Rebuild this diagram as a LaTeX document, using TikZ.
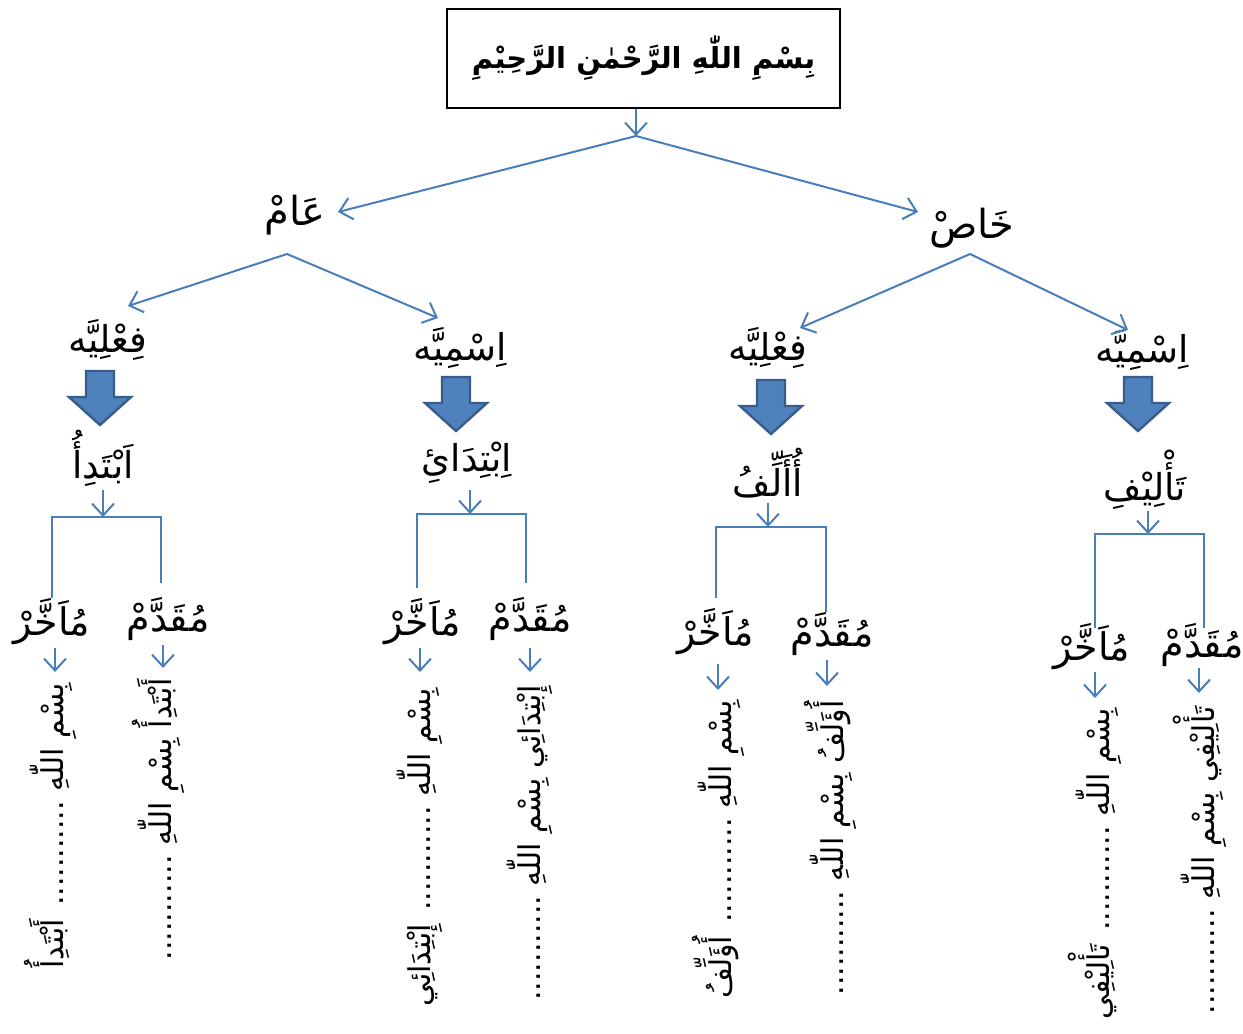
\documentclass[tikz,border=0pt]{standalone}
\usepackage{fontspec}
\usetikzlibrary{arrows.meta}
\TeXXeTstate=1
\newfontfamily\arabicfont[Script=Arabic]{DejaVu Sans}
\newcommand\artxt[1]{\beginR #1\endR}
\definecolor{lnblue}{HTML}{4A7EBB}
\definecolor{bafill}{HTML}{4F81BD}
\definecolor{baedge}{HTML}{385D8A}
\tikzset{
  conn/.style={draw=lnblue, line width=1pt, -{Straight Barb[length=6pt,width=11pt,line width=1pt]}},
  plain/.style={draw=lnblue, line width=0.8pt},
  toplbl/.style={font=\arabicfont\fontsize{20}{24}\selectfont, inner sep=0pt},
  lbl/.style={font=\arabicfont\fontsize{18.5}{22}\selectfont, inner sep=0pt},
  sublbl/.style={font=\arabicfont\fontsize{19}{22}\selectfont, inner sep=0pt},
  vtxt/.style={font=\arabicfont\fontsize{15}{18}\selectfont, inner sep=0pt, rotate=90, anchor=east},
  barrow/.pic={\draw[fill=bafill, draw=baedge, line width=1.2pt]
     (-14,0) -- (14,0) -- (14,26) -- (31,26) -- (0,54) -- (-31,26) -- (-14,26) -- cycle;}
}
\begin{document}
\begin{tikzpicture}[x=0.5pt,y=-0.5pt]
\useasboundingbox (0,0) rectangle (1243,1034);
\fill[white] (0,0) rectangle (1243,1034);
% top box
\node[draw=black, line width=1pt, minimum width=196.5pt, minimum height=49.5pt, inner sep=0pt,
      font=\arabicfont\bfseries\fontsize{14.5}{17}\selectfont] (bism) at (643.5,58.5)
      {\artxt{بِسْمِ اللّٰهِ الرَّحْمٰنِ الرَّحِيْمِ}};
\coordinate (top) at (636,136);
\draw[conn] (bism.south -| top) -- (top);
% level 2
\node[toplbl] (aam) at (295,215) {\artxt{عَامْ}};
\node[toplbl] (khas) at (972,228) {\artxt{خَاصْ}};
\coordinate (aamin) at (338,212);
\coordinate (khasin) at (918,212);
\draw[conn] (top) -- (aamin);
\draw[conn] (top) -- (khasin);
% level 3
\coordinate (aamb) at (287,254);
\coordinate (khasb) at (970,254);
\node[lbl] (f1) at (108,340) {\artxt{فِعْلِيَّه}};
\node[lbl] (i1) at (460,348) {\artxt{اِسْمِيَّه}};
\node[lbl] (f2) at (768,348) {\artxt{فِعْلِيَّه}};
\node[lbl] (i2) at (1142,350) {\artxt{اِسْمِيَّه}};
\coordinate (f1in) at (128,306);
\coordinate (i1in) at (438,318);
\coordinate (f2in) at (800,328);
\coordinate (i2in) at (1128,330);
\draw[conn] (aamb) -- (f1in);
\draw[conn] (aamb) -- (i1in);
\draw[conn] (khasb) -- (f2in);
\draw[conn] (khasb) -- (i2in);
% block arrows
\pic at (100,371) {barrow};
\pic at (456,377) {barrow};
\pic at (771,380) {barrow};
\pic at (1138,377) {barrow};
% level 4
\node[lbl] (b1) at (103,458) {\artxt{اَبْتَدِأُ}};
\node[lbl] (b2) at (467,463) {\artxt{اِبْتِدَائِ}};
\node[lbl] (b3) at (768,473) {\artxt{أُأَلِّفُ}};
\node[lbl] (b4) at (1145,480) {\artxt{تَأْلِيْفِ}};
% brackets
\coordinate (k1) at (103,517);
\coordinate (k2) at (470,514);
\coordinate (k3) at (768,527);
\coordinate (k4) at (1148,534);
\draw[conn] (103,490) -- (k1);
\draw[conn] (470,490) -- (k2);
\draw[conn] (768,503) -- (k3);
\draw[conn] (1148,511) -- (k4);
\node[sublbl] (m1) at (52,622) {\artxt{مُاَخَّرْ}};
\node[sublbl] (q1) at (168,619) {\artxt{مُقَدَّمْ}};
\node[sublbl] (m2) at (423,622) {\artxt{مُاَخَّرْ}};
\node[sublbl] (q2) at (530,619) {\artxt{مُقَدَّمْ}};
\node[sublbl] (m3) at (716,632) {\artxt{مُاَخَّرْ}};
\node[sublbl] (q3) at (832,634) {\artxt{مُقَدَّمْ}};
\node[sublbl] (m4) at (1092,647) {\artxt{مُاَخَّرْ}};
\node[sublbl] (q4) at (1202,645) {\artxt{مُقَدَّمْ}};
\draw[plain] (52,598) |- (161,517) -- (161,583);
\draw[plain] (417,588) |- (526,514) -- (526,583);
\draw[plain] (716,598) |- (826,527) -- (826,612);
\draw[plain] (1095,628) |- (1204,534) -- (1204,628);
% small arrows
\coordinate (e1) at (55,672);  \coordinate (g1) at (163,668);
\coordinate (e2) at (420,672); \coordinate (g2) at (530,672);
\coordinate (e3) at (718,690); \coordinate (g3) at (827,686);
\coordinate (e4) at (1095,698);\coordinate (g4) at (1199,693);
\draw[conn] (55,648) -- (e1);   \draw[conn] (163,645) -- (g1);
\draw[conn] (420,648) -- (e2);  \draw[conn] (530,648) -- (g2);
\draw[conn] (718,664) -- (e3);  \draw[conn] (827,660) -- (g3);
\draw[conn] (1095,672) -- (e4); \draw[conn] (1199,668) -- (g4);
% vertical texts
\node[vtxt] (v1) at (50,683)   {\artxt{بِسْمِ اللّٰهِ ........... أَبْتَدِأُ}};
\node[vtxt] (w1) at (158,678)  {\artxt{أَبْتَدِأُ بِسْمِ اللّٰهِ ...........}};
\node[vtxt] (v2) at (420,688)  {\artxt{بِسْمِ اللّٰهِ ........... إِبْتِدَائِي}};
\node[vtxt] (w2) at (530,685)  {\artxt{إِبْتِدَائِي بِسْمِ اللّٰهِ ...........}};
\node[vtxt] (v3) at (718,700)  {\artxt{بِسْمِ اللّٰهِ ........... أُؤَلِّفُ}};
\node[vtxt] (w3) at (830,700)  {\artxt{أُؤَلِّفُ بِسْمِ اللّٰهِ ...........}};
\node[vtxt] (v4) at (1095,708) {\artxt{بِسْمِ اللّٰهِ ........... تَأْلِيْفِي}};
\node[vtxt] (w4) at (1200,706) {\artxt{تَأْلِيْفِي بِسْمِ اللّٰهِ ...........}};
\end{tikzpicture}
\end{document}
